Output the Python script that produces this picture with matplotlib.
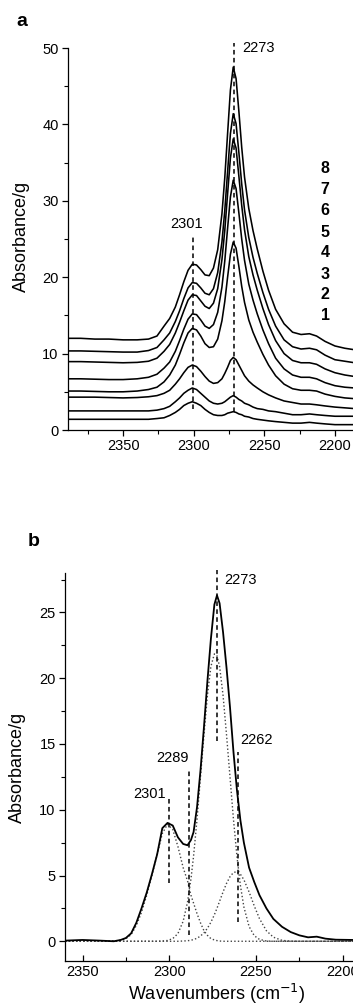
import matplotlib
matplotlib.use("Agg")
import matplotlib.pyplot as plt
from matplotlib.ticker import MultipleLocator

plt.rcParams['font.family'] = ['Liberation Sans', 'DejaVu Sans']

# ---------------- panel a data ----------------
wn_a = [2390, 2380, 2370, 2360, 2350, 2340, 2332, 2326, 2321, 2317, 2313, 2310, 2307, 2304,
        2301, 2298, 2295, 2292, 2289, 2286, 2283, 2280, 2278, 2276, 2274, 2272, 2270, 2268,
        2266, 2264, 2261, 2258, 2255, 2251, 2247, 2242, 2236, 2230, 2224, 2218, 2213, 2207,
        2200, 2193, 2186]
spec1 = [1.4, 1.4, 1.4, 1.4, 1.4, 1.4, 1.4, 1.5, 1.6, 1.9, 2.3, 2.7, 3.2, 3.5, 3.7, 3.5, 3.2, 2.7,
         2.3, 2.0, 1.9, 1.9, 2.0, 2.2, 2.3, 2.4, 2.3, 2.1, 2.0, 1.8, 1.7, 1.5, 1.4, 1.3, 1.2, 1.1,
         1.0, 0.9, 0.9, 1.0, 0.9, 0.8, 0.7, 0.7, 0.7]
spec2 = [2.5, 2.5, 2.5, 2.5, 2.5, 2.5, 2.5, 2.6, 2.8, 3.1, 3.7, 4.2, 4.8, 5.2, 5.5, 5.3, 4.8, 4.3,
         3.8, 3.5, 3.4, 3.5, 3.7, 4.0, 4.3, 4.5, 4.3, 4.0, 3.8, 3.5, 3.3, 3.0, 2.8, 2.7, 2.5, 2.4,
         2.2, 2.0, 2.0, 2.1, 2.0, 1.9, 1.8, 1.8, 1.8]
spec3 = [4.3, 4.3, 4.3, 4.25, 4.2, 4.25, 4.35, 4.5, 4.8, 5.2, 6.0, 6.7, 7.5, 8.2, 8.5, 8.3, 7.7, 7.0,
         6.4, 6.1, 6.2, 6.7, 7.4, 8.2, 9.1, 9.5, 9.2, 8.5, 7.8, 7.1, 6.4, 5.9, 5.5, 5.0, 4.6, 4.2,
         3.8, 3.6, 3.4, 3.4, 3.3, 3.15, 3.0, 2.9, 2.8]
spec4 = [5.1, 5.1, 5.05, 5.0, 5.0, 5.1, 5.3, 5.6, 6.3, 7.2, 8.5, 9.9, 11.4, 12.7, 13.3, 13.1, 12.3,
         11.3, 10.8, 10.9, 11.9, 14.3, 16.8, 20.0, 23.0, 24.6, 23.8, 21.4, 18.8, 16.7, 14.4, 12.8,
         11.5, 9.9, 8.5, 7.1, 6.0, 5.4, 5.2, 5.2, 5.1, 4.7, 4.4, 4.2, 4.1]
spec5 = [6.7, 6.7, 6.65, 6.6, 6.6, 6.7, 6.9, 7.3, 8.1, 8.9, 10.3, 11.7, 13.2, 14.5, 15.2, 15.1,
         14.4, 13.6, 13.3, 13.8, 15.4, 18.7, 22.1, 26.4, 30.5, 32.7, 31.6, 28.4, 25.0, 22.2, 19.1,
         17.0, 15.2, 13.1, 11.3, 9.4, 8.0, 7.2, 6.9, 6.9, 6.7, 6.2, 5.8, 5.6, 5.5]
spec6 = [8.95, 8.95, 8.9, 8.85, 8.8, 8.85, 9.0, 9.4, 10.3, 11.2, 12.7, 14.1, 15.6, 17.0, 17.7, 17.6,
         16.9, 16.2, 15.9, 16.6, 18.5, 22.3, 26.1, 30.9, 35.6, 38.1, 36.9, 33.2, 29.4, 26.2, 22.7,
         20.3, 18.3, 15.9, 13.8, 11.7, 10.0, 9.1, 8.8, 8.8, 8.6, 8.0, 7.5, 7.2, 7.0]
spec7 = [10.35, 10.35, 10.3, 10.25, 10.2, 10.2, 10.4, 10.8, 11.8, 12.7, 14.2, 15.6, 17.2, 18.6, 19.3,
         19.2, 18.6, 17.9, 17.7, 18.5, 20.6, 24.6, 28.7, 33.8, 38.8, 41.4, 40.1, 36.3, 32.2, 28.8,
         25.2, 22.6, 20.5, 18.0, 15.8, 13.6, 11.8, 10.9, 10.6, 10.7, 10.5, 9.8, 9.2, 9.0, 8.8]
spec8 = [12.0, 12.0, 11.9, 11.9, 11.8, 11.8, 11.9, 12.3, 13.6, 14.6, 16.1, 17.7, 19.4, 20.9, 21.7,
         21.6, 21.0, 20.3, 20.2, 21.2, 23.6, 28.3, 33.0, 38.8, 44.5, 47.5, 46.0, 41.7, 37.0, 33.1,
         29.0, 26.1, 23.7, 20.8, 18.3, 15.8, 13.9, 12.8, 12.5, 12.6, 12.3, 11.6, 11.0, 10.7, 10.5]
spectra_a = [spec1, spec2, spec3, spec4, spec5, spec6, spec7, spec8]
labels_a = ['8', '7', '6', '5', '4', '3', '2', '1']

# ---------------- panel b data ----------------
wn_b = [2360, 2350, 2340, 2332, 2328, 2325, 2322, 2319, 2316, 2313, 2310, 2307, 2304, 2301, 2298,
        2295, 2292, 2289.5, 2287.5, 2286, 2284, 2282, 2280, 2278, 2276, 2274, 2272.5, 2271, 2269,
        2267, 2265, 2263, 2261, 2259, 2257, 2254, 2251, 2248, 2244, 2240, 2235, 2230, 2225, 2220,
        2215, 2210, 2204, 2194]
measured = [0.05, 0.1, 0.05, 0.0, 0.1, 0.25, 0.6, 1.4, 2.5, 3.7, 5.1, 6.6, 8.6, 9.0, 8.8,
            7.9, 7.4, 7.3, 7.7, 8.3, 10.2, 13.0, 16.3, 19.8, 23.0, 25.6, 26.3, 25.7, 23.5,
            20.8, 17.8, 14.4, 11.5, 9.2, 7.5, 5.6, 4.5, 3.5, 2.5, 1.7, 1.1, 0.7, 0.45, 0.3,
            0.35, 0.2, 0.12, 0.1]
band_2301 = [0, 0, 0, 0.02, 0.08, 0.2, 0.5, 1.2, 2.2, 3.5, 5.0, 6.6, 8.2, 8.9, 8.5,
             7.2, 5.6, 4.6, 3.5, 2.9, 2.1, 1.4, 0.8, 0.45, 0.2, 0.1, 0.05, 0.02, 0,
             0, 0, 0, 0, 0, 0, 0, 0, 0, 0, 0, 0, 0, 0, 0,
             0, 0, 0, 0]
band_2273 = [0, 0, 0, 0, 0, 0, 0, 0, 0, 0, 0, 0, 0.02, 0.06, 0.2,
             0.59, 1.52, 2.96, 4.74, 6.47, 9.27, 12.5, 15.7, 18.7, 20.9, 21.85, 21.7, 20.9, 18.7,
             15.7, 12.5, 9.27, 6.47, 4.24, 2.61, 1.12, 0.42, 0.14, 0.02, 0, 0, 0, 0, 0,
             0, 0, 0, 0]
band_2262 = [0, 0, 0, 0, 0, 0, 0, 0, 0, 0, 0, 0, 0, 0, 0,
             0, 0.02, 0.04, 0.08, 0.13, 0.23, 0.40, 0.64, 0.99, 1.45, 2.02, 2.51, 3.04, 3.75,
             4.40, 4.91, 5.23, 5.29, 5.10, 4.68, 3.75, 2.68, 1.72, 0.80, 0.31, 0.07, 0.01, 0, 0,
             0, 0, 0, 0]
bands_b = [band_2301, band_2273, band_2262]

# ---------------- figure ----------------
FW, FH = 353, 1007
fig = plt.figure(figsize=(FW / 100, FH / 100), dpi=100)

TICK_FS = 10.5
LAB_FS = 13


def style(ax, xdir='out'):
    for s in ('top', 'right'):
        ax.spines[s].set_visible(False)
    for s in ('left', 'bottom'):
        ax.spines[s].set_linewidth(0.9)
    ax.tick_params(which='major', direction='out', length=4.2, width=0.9,
                   labelsize=TICK_FS, pad=2.5)
    ax.tick_params(which='minor', direction='out', length=2.8, width=0.8)
    if xdir == 'in':
        ax.tick_params(axis='x', which='major', direction='in', length=4.2, pad=3.0)
        ax.tick_params(axis='x', which='minor', direction='in', length=2.8)


# panel a
axa = fig.add_axes([68 / FW, 1 - 430 / FH, 1 - 68 / FW, (430 - 48) / FH])
for sp in spectra_a:
    axa.plot(wn_a, sp, color='black', lw=1.15, solid_joinstyle='round')
axa.set_xlim(2389, 2187.2)
axa.set_ylim(0, 50)
axa.xaxis.set_major_locator(MultipleLocator(50))
axa.xaxis.set_minor_locator(MultipleLocator(25))
axa.yaxis.set_major_locator(MultipleLocator(10))
axa.yaxis.set_minor_locator(MultipleLocator(5))
style(axa)
dash = (0, (3.0, 2.2))
axa.plot([2271.5, 2271.5], [2.4, 50.6], color='black', lw=1.1, ls=dash, clip_on=False)
axa.plot([2300.5, 2300.5], [2.8, 25.5], color='black', lw=1.1, ls=dash)
axa.text(2265.5, 50.0, '2273', fontsize=TICK_FS, ha='left', va='center', clip_on=False)
axa.text(2305, 26.9, '2301', fontsize=TICK_FS, ha='center', va='center')
ys = [34.25, 31.5, 28.7, 25.9, 23.2, 20.4, 17.7, 15.0]
for lab, yv in zip(labels_a, ys):
    axa.text(2207, yv, lab, fontsize=11.5, fontweight='bold', ha='center', va='center')

# panel b
axb = fig.add_axes([65 / FW, 1 - 961 / FH, 1 - 65 / FW, (961 - 573) / FH])
dots = (0, (1.0, 1.6))
for bd in bands_b:
    axb.plot(wn_b, bd, color='#444444', lw=1.0, ls=dots)
axb.plot(wn_b, measured, color='black', lw=1.3, solid_joinstyle='round')
axb.set_xlim(2360.1, 2194.1)
axb.set_ylim(-1.5, 28)
axb.xaxis.set_major_locator(MultipleLocator(50))
axb.xaxis.set_minor_locator(MultipleLocator(25))
axb.yaxis.set_major_locator(MultipleLocator(5))
axb.yaxis.set_minor_locator(MultipleLocator(2.5))
axb.set_yticks([0, 5, 10, 15, 20, 25])
style(axb, xdir='in')
axb.plot([2272.3, 2272.3], [15.2, 28.2], color='black', lw=1.1, ls=dash, clip_on=False)
axb.plot([2288.8, 2288.8], [0.45, 13.1], color='black', lw=1.1, ls=dash)
axb.plot([2300.2, 2300.2], [4.4, 10.9], color='black', lw=1.1, ls=dash)
axb.plot([2260.2, 2260.2], [1.5, 14.4], color='black', lw=1.1, ls=dash)
axb.text(2268.5, 27.5, '2273', fontsize=TICK_FS, ha='left', va='center', clip_on=False)
axb.text(2259.1, 15.3, '2262', fontsize=TICK_FS, ha='left', va='center')
axb.text(2297.9, 13.9, '2289', fontsize=TICK_FS, ha='center', va='center')
axb.text(2311.4, 11.2, '2301', fontsize=TICK_FS, ha='center', va='center')

# labels
fig.text(21 / FW, 1 - 236 / FH, 'Absorbance/g', rotation=90, fontsize=LAB_FS,
         ha='center', va='center')
fig.text(17 / FW, 1 - 767 / FH, 'Absorbance/g', rotation=90, fontsize=LAB_FS,
         ha='center', va='center')
fig.text(216.5 / FW, 1 - 994 / FH, 'Wavenumbers (cm$^{-1}$)', fontsize=LAB_FS,
         ha='center', va='center')
fig.text(22 / FW, 1 - 21 / FH, 'a', fontsize=14, fontweight='bold', ha='center', va='center')
fig.text(34 / FW, 1 - 542 / FH, 'b', fontsize=14, fontweight='bold', ha='center', va='center')

fig.savefig('out.png', dpi=100)
